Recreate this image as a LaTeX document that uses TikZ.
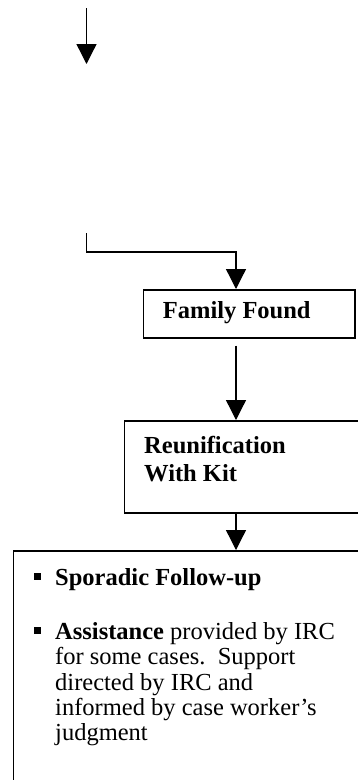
\documentclass[tikz,border=0pt]{standalone}
\usepackage{fontspec}
\setmainfont{Liberation Serif}
\usetikzlibrary{arrows.meta}
\begin{document}
\begin{tikzpicture}[x=1pt,y=-1pt,
  conn/.style={line width=1.3pt, -{Triangle[length=20pt,width=20pt]}},
  boxs/.style={draw, line width=1.5pt, rectangle, inner sep=0pt, anchor=north west},
  txt/.style={anchor=base west, inner sep=0pt, font=\fontsize{24.5pt}{25.8pt}\selectfont},
  bul/.style={anchor=base west, inner sep=0pt},
]
\useasboundingbox (0,0) rectangle (358,780);
\clip (0,0) rectangle (358,780);
\fill[white] (0,0) rectangle (358,780);
% boxes
\node[boxs, minimum width=211.5pt, minimum height=48pt] (ff) at (142.5,289) {};
\node[boxs, minimum width=234pt, minimum height=92pt] (ru) at (123.5,420) {};
\node[boxs, minimum width=360pt, minimum height=260pt] (bx) at (12.5,550) {};
% texts
\node[txt, font=\fontsize{24.5pt}{25.8pt}\selectfont\bfseries] (tff) at (162.7,318) {Family Found};
\node[txt, font=\fontsize{24.5pt}{25.8pt}\selectfont\bfseries] (tru1) at (144,453.3) {Reunification};
\node[txt, font=\fontsize{24.5pt}{25.8pt}\selectfont\bfseries] (tru2) at (144,481) {With Kit};
\node[bul] (b1) at (34,585) {\rule[5.5pt]{6.5pt}{6.5pt}};
\node[txt, font=\fontsize{24.5pt}{25.8pt}\selectfont\bfseries] (i1) at (55,585) {Sporadic Follow-up};
\node[bul] (b2) at (34,639) {\rule[5.5pt]{6.5pt}{6.5pt}};
\node[txt] (i2a) at (55,639) {\textbf{Assistance} provided by IRC};
\node[txt] (i2b) at (55,664.5) {for some cases.\ \ Support};
\node[txt] (i2c) at (55,690) {directed by IRC and};
\node[txt] (i2d) at (55,715.3) {informed by case worker’s};
\node[txt] (i2e) at (55,740.7) {judgment};
% connectors
\coordinate (s1) at (86.5,8);
\coordinate (e1) at (86.5,64);
\draw[conn] (s1) -- (e1);
\coordinate (s2) at (86.5,233);
\coordinate (k2) at (86.5,252);
\draw[conn] (s2) -- (k2) -- (236,252) -- (236,0 |- ff.north);
\draw[conn, shorten <=7pt] (236,0 |- ff.south) -- (236,0 |- ru.north);
\draw[conn] (236,0 |- ru.south) -- (236,0 |- bx.north);
\end{tikzpicture}
\end{document}
